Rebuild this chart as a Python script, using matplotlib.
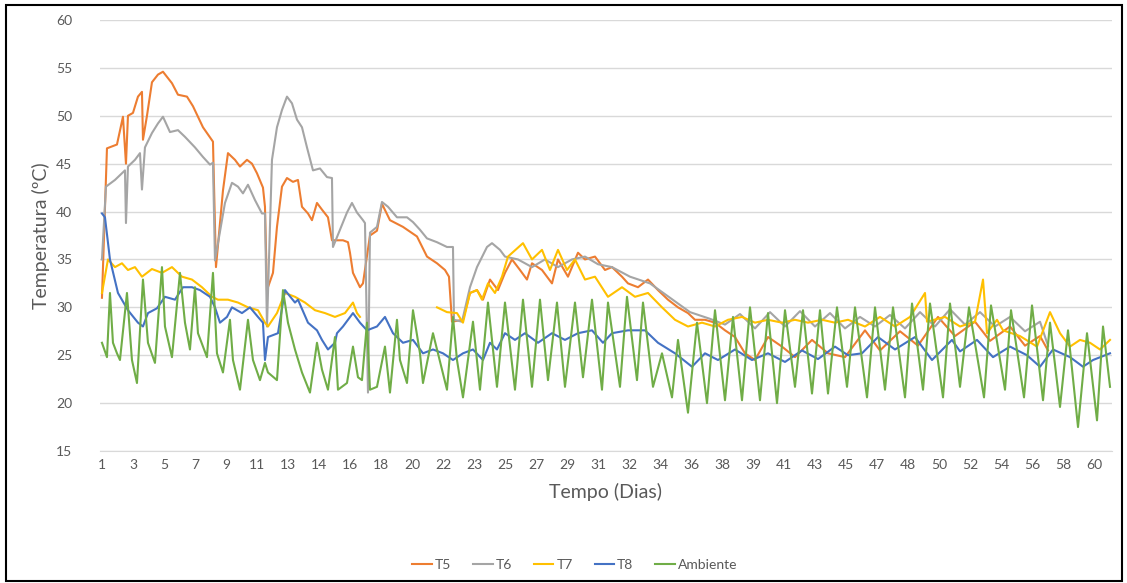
import numpy as np
import matplotlib.pyplot as plt
from matplotlib.patches import Rectangle

plt.rcParams['font.family'] = ['Lato', 'DejaVu Sans']

# readings: (sample number, temperature in ºC); samples run along the time axis
t5 = [(0, 31.0), (5, 46.6), (15, 47.0), (21, 49.9), (24, 45.0), (26, 50.0), (31, 50.3),
      (36, 52.0), (40, 52.5), (41, 47.5), (45, 50.0), (50, 53.5), (56, 54.3), (61, 54.6),
      (70, 53.4), (76, 52.2), (85, 52.0), (91, 51.0), (101, 48.8), (111, 47.3), (114, 34.2),
      (121, 42.2), (126, 46.1), (133, 45.4), (138, 44.7), (145, 45.4), (150, 45.0), (155, 44.0),
      (161, 42.5), (163, 40.5), (165, 31.8), (171, 33.6), (175, 38.4), (180, 42.6), (185, 43.5),
      (191, 43.1), (196, 43.3), (200, 40.5), (206, 39.8), (210, 39.1), (215, 40.9), (220, 40.2),
      (226, 39.4), (230, 37.0), (241, 37.0), (246, 36.8), (248, 35.7), (251, 33.6), (258, 32.1),
      (261, 32.5), (268, 37.5), (275, 38.0), (280, 40.8), (288, 39.1), (301, 38.4), (315, 37.4),
      (325, 35.3), (335, 34.6), (343, 33.9), (347, 33.2), (350, 28.5), (361, 28.7), (368, 31.5),
      (375, 31.8), (381, 30.8), (388, 32.9), (396, 31.8), (403, 33.6), (410, 35.0), (418, 33.9),
      (425, 32.9), (430, 34.6), (440, 33.9), (450, 32.5), (456, 35.0), (466, 33.2), (476, 35.7),
      (483, 35.0), (493, 35.3), (503, 33.9), (510, 34.2), (520, 33.2), (526, 32.5), (536, 32.1),
      (546, 32.9), (556, 31.8), (566, 30.8), (576, 30.0), (586, 29.4), (593, 28.7), (603, 28.7),
      (613, 28.4), (623, 27.6), (633, 26.9), (643, 25.2), (653, 24.5), (666, 26.9), (680, 25.9),
      (693, 24.8), (710, 26.6), (726, 25.2), (743, 24.8), (763, 27.6), (778, 25.5), (798, 27.5),
      (816, 26.0), (836, 29.0), (853, 27.0), (873, 28.5), (888, 26.5), (908, 28.0), (923, 26.0),
      (938, 27.0), (946, 25.5)]

t6 = [(0, 35.0), (4, 42.6), (13, 43.3), (20, 44.0), (23, 44.3), (24, 38.8), (26, 44.7),
      (33, 45.4), (38, 46.1), (40, 42.3), (43, 46.7), (50, 48.2), (56, 49.2), (61, 49.9),
      (68, 48.3), (76, 48.5), (83, 47.8), (93, 46.7), (101, 45.7), (108, 44.9), (111, 45.1),
      (113, 34.9), (116, 36.7), (123, 40.9), (130, 43.0), (136, 42.6), (141, 41.9), (146, 42.8),
      (153, 41.2), (160, 39.8), (163, 39.8), (165, 28.0), (170, 45.4), (175, 48.8), (180, 50.6),
      (185, 52.0), (190, 51.3), (195, 49.6), (200, 48.8), (205, 46.7), (211, 44.3), (218, 44.5),
      (225, 43.6), (230, 43.5), (231, 36.3), (238, 38.1), (245, 39.9), (250, 40.9), (255, 39.9),
      (261, 39.1), (263, 38.8), (266, 21.1), (268, 37.8), (275, 38.4), (280, 41.0), (286, 40.5),
      (295, 39.4), (305, 39.4), (311, 38.9), (318, 38.1), (325, 37.2), (335, 36.8), (345, 36.3),
      (351, 36.3), (352, 28.7), (360, 28.5), (368, 32.1), (375, 34.2), (385, 36.3), (390, 36.7),
      (398, 36.0), (403, 35.3), (416, 35.0), (430, 34.2), (443, 35.0), (456, 34.2), (470, 35.0),
      (483, 35.3), (496, 34.5), (510, 34.2), (528, 33.2), (548, 32.5), (568, 31.0), (588, 29.5),
      (608, 28.8), (623, 28.2), (638, 29.3), (653, 27.8), (668, 29.5), (683, 28.0), (698, 29.6),
      (713, 28.0), (728, 29.4), (743, 27.8), (758, 29.0), (773, 28.0), (788, 29.2), (803, 27.8),
      (818, 29.5), (833, 28.0), (848, 29.8), (863, 28.2), (878, 29.5), (893, 28.0), (908, 29.0),
      (923, 27.5), (938, 28.5), (946, 26.0)]

t7 = [(0, 31.5), (6, 35.0), (13, 34.2), (20, 34.6), (26, 33.9), (33, 34.2), (40, 33.2),
      (50, 34.0), (60, 33.6), (70, 34.2), (80, 33.2), (90, 32.9), (100, 32.1), (110, 31.1),
      (116, 30.8), (126, 30.8), (136, 30.5), (146, 30.0), (156, 29.7), (163, 28.4), (166, 28.0),
      (175, 29.4), (183, 31.5), (193, 31.1), (203, 30.5), (213, 29.7), (223, 29.4), (233, 29.0),
      (243, 29.4), (251, 30.5), (255, 29.4), (258, 29.0), (300, np.nan), (335, 30.0), (345, 29.5),
      (355, 29.4), (361, 28.4), (368, 31.5), (375, 31.8), (380, 30.8), (386, 32.5), (393, 31.5),
      (400, 33.2), (406, 35.3), (421, 36.7), (430, 35.0), (440, 36.0), (448, 33.9), (456, 36.0),
      (465, 33.9), (473, 35.0), (483, 32.9), (493, 33.2), (506, 31.1), (520, 32.1), (533, 31.1),
      (546, 31.5), (560, 30.0), (573, 28.7), (586, 28.0), (600, 28.4), (613, 28.0), (626, 28.7),
      (640, 29.0), (653, 28.4), (666, 28.7), (680, 28.4), (693, 28.7), (706, 28.4), (720, 28.7),
      (733, 28.4), (746, 28.7), (763, 28.0), (778, 29.0), (793, 28.0), (808, 29.0), (823, 31.5),
      (825, 28.5), (843, 29.0), (858, 28.0), (873, 28.5), (881, 32.9), (885, 27.3), (895, 28.7),
      (901, 27.6), (918, 27.0), (935, 25.9), (948, 29.5), (958, 27.3), (968, 25.9), (978, 26.6),
      (988, 26.3), (998, 25.6), (1008, 26.6)]

t8 = [(0, 39.8), (3, 39.4), (8, 35.0), (16, 31.5), (26, 29.7), (36, 28.4), (41, 28.0),
      (46, 29.4), (55, 29.9), (63, 31.1), (73, 30.8), (81, 32.1), (90, 32.1), (98, 31.8),
      (108, 31.1), (113, 30.0), (118, 28.4), (125, 29.0), (130, 30.0), (140, 29.4), (148, 30.0),
      (156, 29.0), (161, 28.4), (163, 24.5), (166, 26.9), (176, 27.3), (183, 31.8), (193, 30.5),
      (196, 30.8), (206, 28.4), (215, 27.6), (220, 26.6), (226, 25.6), (233, 26.3), (235, 27.3),
      (241, 28.0), (251, 29.4), (258, 28.4), (265, 27.6), (275, 28.0), (283, 29.0), (291, 27.3),
      (301, 26.3), (311, 26.6), (321, 25.2), (331, 25.6), (341, 25.2), (351, 24.5), (361, 25.2),
      (371, 25.6), (381, 24.5), (388, 26.3), (395, 25.6), (403, 27.3), (413, 26.6), (423, 27.3),
      (436, 26.3), (450, 27.3), (463, 26.6), (476, 27.3), (490, 27.6), (501, 26.3), (510, 27.3),
      (526, 27.6), (543, 27.6), (556, 26.3), (573, 25.2), (590, 23.8), (603, 25.2), (616, 24.5),
      (633, 25.6), (650, 24.5), (666, 25.2), (683, 24.3), (700, 25.5), (716, 24.6), (733, 25.9),
      (746, 25.0), (760, 25.2), (776, 26.9), (793, 25.6), (813, 26.9), (830, 24.5), (850, 26.6),
      (858, 25.4), (875, 26.6), (891, 24.8), (908, 25.9), (925, 25.0), (938, 23.8), (951, 25.6),
      (968, 24.8), (981, 23.8), (991, 24.5), (1008, 25.2)]

ambiente = [(0, 26.3), (5, 24.8), (8, 31.5), (11, 26.3), (15, 25.2), (18, 24.5), (25, 31.5),
            (30, 24.5), (35, 22.1), (41, 32.9), (46, 26.3), (53, 24.2), (60, 34.2), (63, 28.0),
            (70, 24.8), (78, 33.6), (83, 28.4), (88, 25.6), (93, 32.1), (96, 27.3), (105, 24.8),
            (111, 33.6), (115, 25.2), (121, 23.2), (128, 28.7), (131, 24.5), (138, 21.4),
            (146, 28.7), (151, 24.5), (158, 22.4), (163, 24.2), (166, 23.2), (175, 22.4),
            (181, 31.8), (186, 28.4), (193, 25.6), (200, 23.2), (208, 21.1), (215, 26.3),
            (220, 23.5), (226, 21.4), (233, 26.9), (236, 21.4), (245, 22.1), (251, 25.9),
            (256, 22.7), (260, 22.4), (265, 28.4), (268, 21.4), (275, 21.7), (283, 25.9),
            (288, 21.1), (295, 28.7), (298, 24.5), (305, 22.1), (311, 29.7), (318, 25.2),
            (321, 22.1), (331, 27.3), (345, 21.4), (351, 29.0), (355, 24.5), (361, 20.6),
            (371, 28.5), (378, 21.4), (386, 30.5), (395, 21.7), (403, 30.5), (413, 21.4),
            (421, 30.8), (430, 21.7), (438, 30.8), (446, 22.4), (455, 30.5), (463, 21.7),
            (473, 30.5), (481, 22.7), (490, 30.8), (500, 21.4), (506, 30.5), (518, 21.7),
            (525, 31.1), (535, 22.4), (541, 30.5), (551, 21.7), (560, 25.2), (570, 20.6),
            (576, 26.6), (586, 19.0), (595, 28.4), (605, 20.0), (613, 29.7), (623, 20.3),
            (631, 29.0), (640, 20.3), (648, 30.0), (658, 20.3), (666, 29.4), (675, 20.0),
            (683, 29.7), (693, 21.7), (701, 29.7), (710, 21.0), (718, 29.7), (726, 21.0),
            (735, 30.0), (745, 21.7), (753, 30.0), (765, 20.6), (773, 30.0), (783, 21.4),
            (791, 30.0), (803, 20.6), (810, 30.4), (821, 21.4), (828, 30.4), (841, 20.6),
            (848, 30.4), (858, 21.7), (867, 30.0), (882, 20.6), (889, 30.2), (903, 21.4),
            (909, 29.7), (922, 20.6), (930, 30.2), (941, 20.3), (948, 28.4), (958, 19.6),
            (966, 27.6), (976, 17.5), (985, 27.3), (995, 18.2), (1001, 28.0), (1008, 21.7)]

day_labels = [1, 3, 5, 7, 9, 11, 13, 14, 16, 18, 20, 22, 23, 25, 27, 29, 31, 32, 34,
              36, 38, 39, 41, 43, 45, 47, 48, 50, 52, 54, 56, 58, 60]
samples_per_label = 31

series = [
    ('T5', t5, '#ED7D31'),
    ('T6', t6, '#A5A5A5'),
    ('T7', t7, '#FFC000'),
    ('T8', t8, '#4472C4'),
    ('Ambiente', ambiente, '#70AD47'),
]

fig = plt.figure(figsize=(11.27, 5.83), dpi=100)
ax = fig.add_axes([0.0887, 0.2264, 0.8980, 0.7393])

for name, pts, col in series:
    arr = np.array(pts, dtype=float)
    ax.plot(arr[:, 0], arr[:, 1], color=col, lw=1.5, label=name)

ax.set_ylim(15, 60)
ax.set_yticks(range(15, 61, 5))
ax.set_xlim(-2, 1010)
ax.set_xticks(np.arange(len(day_labels)) * samples_per_label)
ax.set_xticklabels([str(d) for d in day_labels])

ax.grid(axis='y', color='#D9D9D9', lw=1)
ax.set_axisbelow(True)
for s in ['top', 'right', 'left']:
    ax.spines[s].set_visible(False)
ax.spines['bottom'].set_color('#D9D9D9')
ax.tick_params(axis='both', length=0, colors='#595959', labelsize=10)
ax.tick_params(axis='y', pad=20)
ax.tick_params(axis='x', pad=6)

ax.set_xlabel('Tempo (Dias)', fontsize=14, color='#595959', labelpad=8)
ax.set_ylabel('Temperatura (ºC)', fontsize=14, color='#595959', labelpad=4)

leg = fig.legend(loc='center', bbox_to_anchor=(0.51, 0.031), ncol=5, frameon=False,
                 fontsize=10, handlelength=1.4, handletextpad=0.2, columnspacing=1.6)
for t in leg.get_texts():
    t.set_color('#595959')

# outer frame
fig.patches.append(Rectangle((0.005, 0.004), 0.991, 0.988, transform=fig.transFigure,
                             fill=False, edgecolor='black', lw=1.5))

fig.savefig('out.png', dpi=100)
